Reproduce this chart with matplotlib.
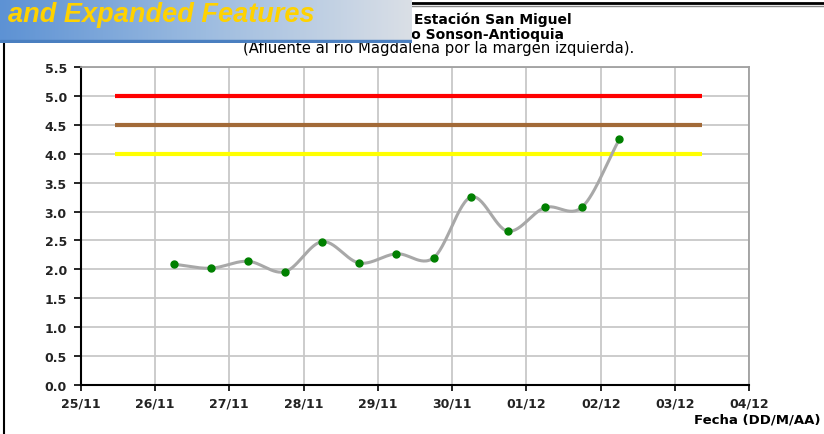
import numpy as np
import pandas as pd
import matplotlib
matplotlib.use("Agg")
import matplotlib.pyplot as plt
import matplotlib.dates as mdates
from matplotlib.lines import Line2D
from matplotlib.patches import Rectangle
from matplotlib.colors import LinearSegmentedColormap

plt.rcParams['font.family'] = ['DejaVu Sans']

# ---- data ----
times = ["2011-11-26 06:00", "2011-11-26 18:00", "2011-11-27 06:00", "2011-11-27 18:00",
         "2011-11-28 06:00", "2011-11-28 18:00", "2011-11-29 06:00", "2011-11-29 18:00",
         "2011-11-30 06:00", "2011-11-30 18:00", "2011-12-01 06:00", "2011-12-01 18:00",
         "2011-12-02 06:00"]
levels = [2.09, 2.02, 2.14, 1.96, 2.48, 2.11, 2.27, 2.20, 3.25, 2.66, 3.07, 3.08, 4.25]

thresholds = [5.0, 4.5, 4.0]
threshold_colors = ["#FF0000", "#A26A38", "#FFFF00"]
threshold_span = ["2011-11-25 11:00", "2011-12-03 08:40"]

x_start = "2011-11-25"
x_end = "2011-12-04"
y_ticks = [0.0, 0.5, 1.0, 1.5, 2.0, 2.5, 3.0, 3.5, 4.0, 4.5, 5.0, 5.5]

title_lines = ["Estación San Miguel", "Río Sonsón - Municipio Sonson-Antioquia",
               "(Afluente al rio Magdalena por la margen izquierda)."]
banner_text = "and Expanded Features"
xlabel = "Fecha (DD/M/AA)"

# ---- figure ----
W, H = 824, 435
fig = plt.figure(figsize=(W / 100, H / 100), dpi=100)
ax = fig.add_axes([80.7 / W, 1 - 386 / H, (749.4 - 80.7) / W, (386 - 68) / H])

t = mdates.date2num(pd.to_datetime(times).to_pydatetime())
y = np.array(levels)

# Catmull-Rom smoothing (Excel-style smoothed line)
def catmull(xp, yp, n=30):
    P = np.column_stack([xp, yp])
    P = np.vstack([P[0] - (P[1] - P[0]), P, P[-1] + (P[-1] - P[-2])])
    out = []
    for i in range(1, len(P) - 2):
        p0, p1, p2, p3 = P[i - 1], P[i], P[i + 1], P[i + 2]
        s = np.linspace(0, 1, n, endpoint=False)[:, None]
        pts = 0.5 * ((2 * p1) + (-p0 + p2) * s + (2 * p0 - 5 * p1 + 4 * p2 - p3) * s ** 2
                     + (-p0 + 3 * p1 - 3 * p2 + p3) * s ** 3)
        out.append(pts)
    out.append(P[-2][None, :])
    out = np.vstack(out)
    return out[:, 0], out[:, 1]

sx, sy = catmull(t, y)

ts = mdates.date2num(pd.to_datetime(threshold_span).to_pydatetime())
for val, col in zip(thresholds, threshold_colors):
    ax.plot(ts, [val, val], color=col, lw=3, solid_capstyle='butt', zorder=3)

ax.plot(sx, sy, color="#A8A8A8", lw=2.2, zorder=4)
ax.plot(t, y, linestyle='none', marker='o', ms=5, color="#008000", mec="#008000", zorder=5)

x0 = mdates.date2num(pd.Timestamp(x_start).to_pydatetime())
x1 = mdates.date2num(pd.Timestamp(x_end).to_pydatetime())
ax.set_xlim(x0, x1)
ax.set_ylim(0, 5.5)
ax.set_yticks(y_ticks)
ax.set_yticklabels([f"{v:.1f}" for v in y_ticks], fontsize=9, fontweight='bold', color='#222222')
ax.xaxis.set_major_locator(mdates.DayLocator())
ax.xaxis.set_major_formatter(mdates.DateFormatter("%d/%m"))
ax.tick_params(axis='x', labelsize=9, direction='out', length=4, width=1.2, color='black', pad=4,
               labelcolor='#222222')
ax.tick_params(axis='y', labelsize=9, direction='out', length=5, width=1.2, color='black', pad=5)
plt.setp(ax.get_xticklabels(), fontweight='bold')
ax.grid(True, color="#C8C8C8", lw=1.3)
ax.set_axisbelow(True)
ax.spines['left'].set_color('black')
ax.spines['left'].set_linewidth(1.5)
ax.spines['bottom'].set_color('black')
ax.spines['bottom'].set_linewidth(1.5)
ax.spines['top'].set_color('#A0A0A0')
ax.spines['right'].set_color('#A0A0A0')
ax.spines['top'].set_linewidth(1.3)
ax.spines['right'].set_linewidth(1.3)

# titles
fig.text(572 / W, 1 - 20 / H, title_lines[0], ha='right', va='center', fontsize=10, fontweight='bold')
fig.text(564 / W, 1 - 34.5 / H, title_lines[1], ha='right', va='center', fontsize=10, fontweight='bold')
fig.text(439 / W, 1 - 49 / H, title_lines[2], ha='center', va='center', fontsize=10.7)
fig.text(820 / W, 1 - 420 / H, xlabel, ha='right', va='center', fontsize=9.5, fontweight='bold')

# outer frame lines
fig.add_artist(Line2D([4 / W, 4 / W], [0, 1 - 44 / H], transform=fig.transFigure, color='black', lw=1.5))
fig.add_artist(Line2D([412 / W, 1], [1 - 4 / H, 1 - 4 / H], transform=fig.transFigure, color='black', lw=2))
fig.add_artist(Line2D([412 / W, 1], [1 - 6.5 / H, 1 - 6.5 / H], transform=fig.transFigure, color='#888888', lw=1))

# banner with gradient (drawn on top of everything)
bax = fig.add_axes([0, 1 - 44 / H, 412 / W, 44 / H], zorder=10)
grad = np.linspace(0, 1, 256)[None, :]
cmap = LinearSegmentedColormap.from_list("b", ["#5D92D4", "#9DBCE0", "#DADFE6"])
bax.imshow(grad, aspect='auto', cmap=cmap, extent=[0, 1, 0, 1])
bax.add_patch(Rectangle((0, 0), 1, 0.06, color="#4A7FC0", transform=bax.transAxes))
bax.set_xlim(0, 1)
bax.set_ylim(0, 1)
bax.axis('off')
bax.text(8 / 412, 0.66, banner_text, ha='left', va='center', fontsize=19.5,
         fontweight='bold', fontstyle='italic', color="#FFD200",
         family=['Liberation Sans', 'DejaVu Sans'])

fig.savefig("out.png", dpi=100)
